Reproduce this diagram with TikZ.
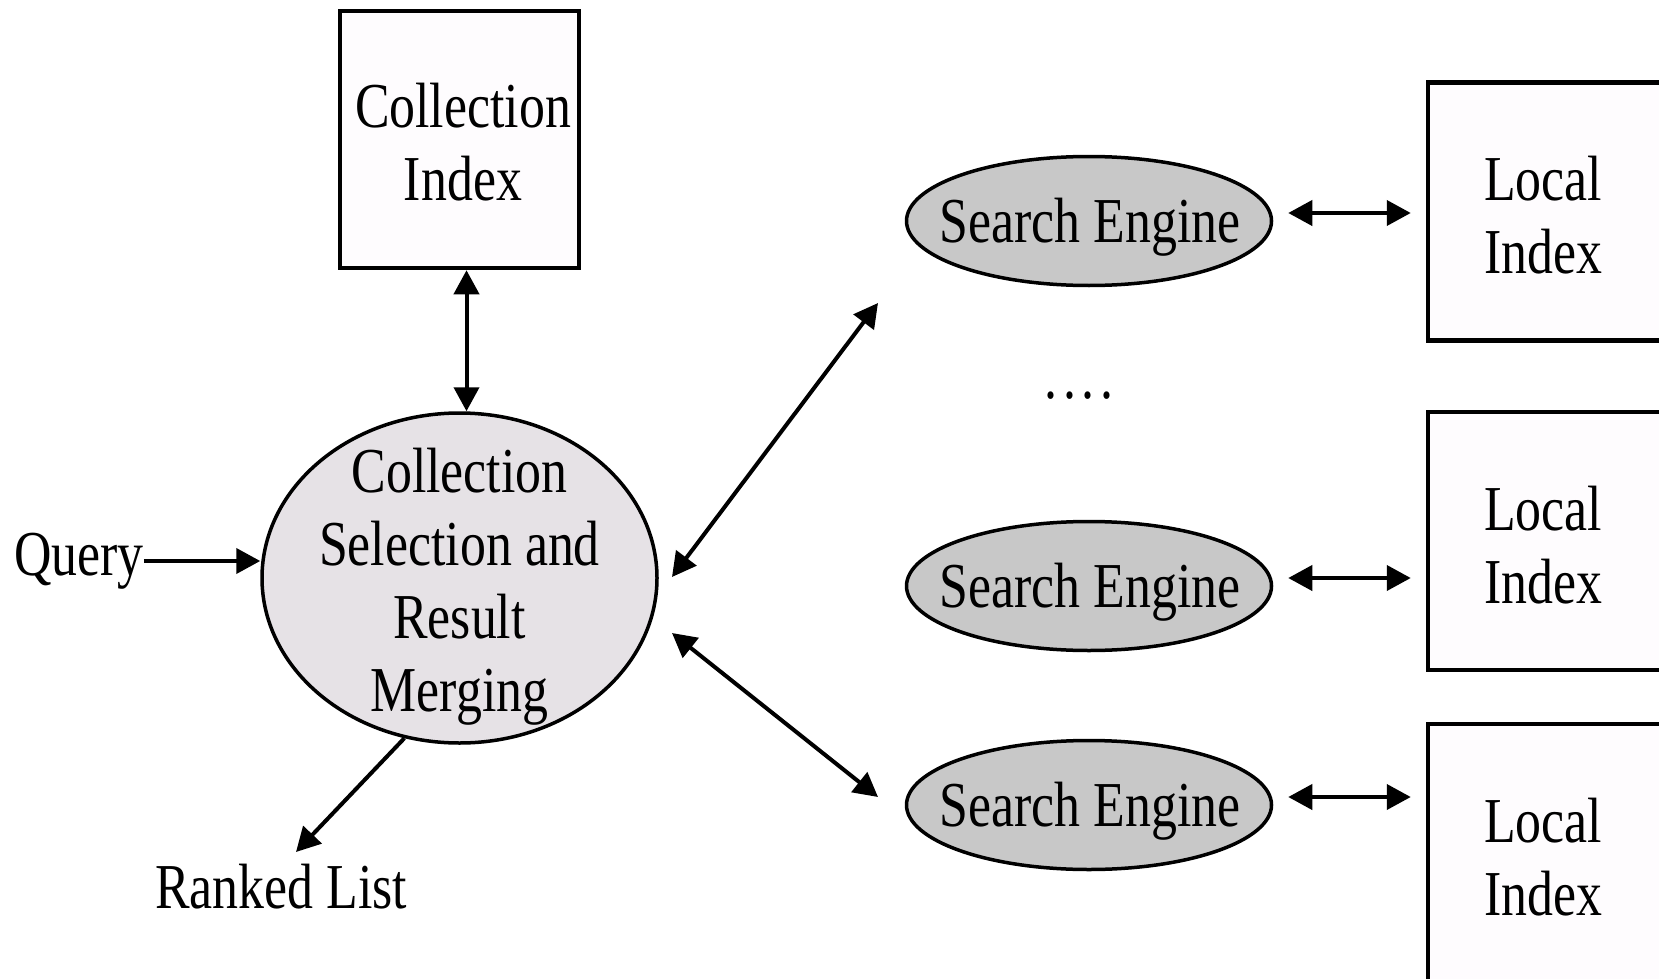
\documentclass[tikz,border=0pt]{standalone}
\usepackage{fontspec}
\setmainfont{Liberation Serif}[FakeStretch=0.81]
\usetikzlibrary{shapes.geometric,arrows.meta}
\definecolor{boxfill}{HTML}{FEFCFE}
\definecolor{hubfill}{HTML}{E6E2E6}
\definecolor{enginefill}{HTML}{C8C8C8}
\tikzset{
  lbl/.style={font=\fontsize{64pt}{73pt}\selectfont, align=center, inner sep=0pt},
  indexbox/.style={draw, line width=4.5pt, fill=boxfill, rectangle, inner sep=0pt},
  hub/.style={draw, line width=3.5pt, fill=hubfill, ellipse, inner sep=0pt,
    minimum width=395pt, minimum height=330pt},
  engine/.style={draw, line width=3.5pt, fill=enginefill, ellipse, inner sep=0pt,
    minimum width=365pt, minimum height=129pt},
  tip/.tip={Triangle[length=24pt,width=25pt]},
  conn/.style={line width=4pt, -tip},
  biconn/.style={line width=4pt, tip-tip}
}
\begin{document}
\begin{tikzpicture}[x=1pt,y=-1pt]
\useasboundingbox (0,0) rectangle (1659,979);
\clip (0,0) rectangle (1659,979);

% central broker and its collection index
\node[indexbox, minimum width=239pt, minimum height=257pt] (ci) at (459.5,139.5) {};
\node[lbl] (citext) at (463,142) {Collection\\Index};
\node[hub] (csm) at (459.5,578) {};
\node[lbl] (csmtext) at (459.5,587) {Collection\\Selection and\\Result\\Merging};

% query in, ranked list out
\node[lbl] (query) at (79,561) {Query};
\node[lbl] (ranked) at (281,887) {Ranked List};
\coordinate (rankedtip) at (296,852);

% search engines with their local indexes
\foreach \i/\y/\by in {1/221/211.6, 2/586/541.2, 3/805/853}{
  \node[engine] (se\i) at (1089,\y) {};
  \node[lbl] (se\i text) at (1090,\y+6) {Search Engine};
  \node[indexbox, minimum width=240pt, minimum height=258pt] (li\i) at (1548,\by) {};
  \node[lbl] (li\i text) at (1543,\by+4) {Local\\Index};
  \draw[biconn] ([xshift=15pt,yshift=8pt]se\i.east) -- ([xshift=-15pt,yshift=8pt]se\i.east -| li\i.west);
}
\node[lbl] (dots) at (1079,396) {.\hspace{6pt}.\hspace{6pt}.\hspace{6pt}.};

% connectors
\draw[biconn] ([xshift=7pt]ci.south) -- ([xshift=7pt]csm.north);
\draw[conn] (query.east) -- (query.east -| csm.west);
\draw[conn] (csm.251) -- (rankedtip);

\coordinate (up) at (878,303);
\coordinate (down) at (878,797);
\coordinate (upstart) at (672,577);
\coordinate (downstart) at (672,633);
\draw[biconn] (upstart) -- (up);
\draw[biconn] (downstart) -- (down);
\end{tikzpicture}
\end{document}
